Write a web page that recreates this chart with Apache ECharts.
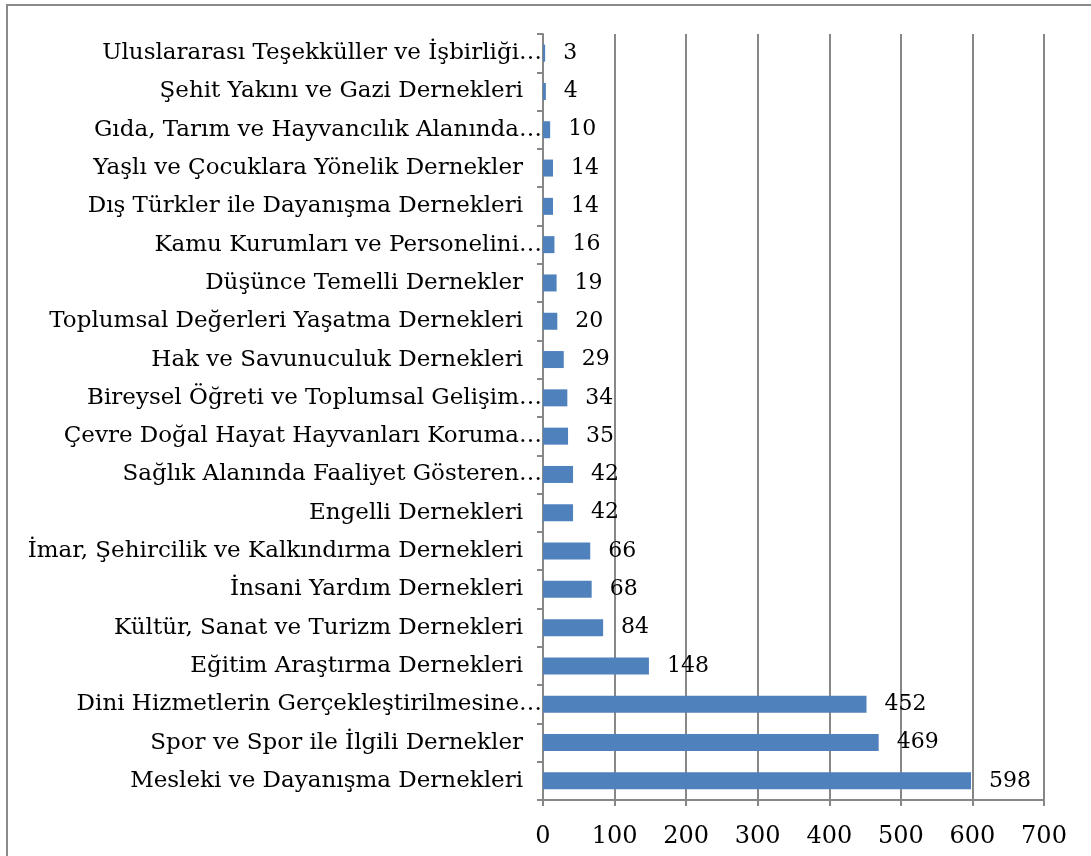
<!DOCTYPE html>
<html>
<head>
<meta charset="utf-8">
<script src="https://cdn.jsdelivr.net/npm/echarts@6/dist/echarts.min.js"></script>
<style>
  html, body { margin: 0; padding: 0; background: #fff; }
  .frame {
    position: absolute;
    left: 6px;
    top: 4px;
    width: 1085px;
    height: 852px;
    border-left: 2px solid #8a8a8a;
    border-top: 2px solid #8a8a8a;
  }
  #barChart { position: absolute; left: 0; top: 0; width: 1091px; height: 856px; }
</style>
</head>
<body>
<div class="frame"></div>
<div id="barChart"></div>
<script>
// kategoriler (yukaridan asagiya)
const categories = [
  'Uluslararası Teşekküller ve İşbirliği…',
  'Şehit Yakını ve Gazi Dernekleri',
  'Gıda, Tarım ve Hayvancılık Alanında…',
  'Yaşlı ve Çocuklara Yönelik Dernekler',
  'Dış Türkler ile Dayanışma Dernekleri',
  'Kamu Kurumları ve Personelini…',
  'Düşünce Temelli Dernekler',
  'Toplumsal Değerleri Yaşatma Dernekleri',
  'Hak ve Savunuculuk Dernekleri',
  'Bireysel Öğreti ve Toplumsal Gelişim…',
  'Çevre Doğal Hayat Hayvanları Koruma…',
  'Sağlık Alanında Faaliyet Gösteren…',
  'Engelli Dernekleri',
  'İmar, Şehircilik ve Kalkındırma Dernekleri',
  'İnsani Yardım Dernekleri',
  'Kültür, Sanat ve Turizm Dernekleri',
  'Eğitim Araştırma Dernekleri',
  'Dini Hizmetlerin Gerçekleştirilmesine…',
  'Spor ve Spor ile İlgili Dernekler',
  'Mesleki ve Dayanışma Dernekleri'
]
const values = [3, 4, 10, 14, 14, 16, 19, 20, 29, 34, 35, 42, 42, 66, 68, 84, 148, 452, 469, 598]
const xTicks = [0, 700, 100] // min, max, interval

const font = '"DejaVu Serif", serif'
const gray = '#878787'

let myChart = echarts.init(document.getElementById('barChart'))
myChart.setOption({
  animation: false,
  grid: {
    left: 543,
    right: 47,
    top: 34,
    bottom: 56
  },
  xAxis: {
    type: 'value',
    min: xTicks[0],
    max: xTicks[1],
    interval: xTicks[2],
    axisLine: { show: true, lineStyle: { color: gray, width: 2 } },
    axisTick: { show: true, length: 6, lineStyle: { color: gray, width: 2 } },
    splitLine: { show: true, lineStyle: { color: gray, width: 2 } },
    axisLabel: {
      margin: 25,
      fontFamily: font,
      fontSize: 24,
      color: '#000'
    }
  },
  yAxis: {
    type: 'category',
    inverse: true,
    data: categories,
    axisLine: { show: true, lineStyle: { color: gray, width: 2 } },
    axisTick: { show: true, length: 6, lineStyle: { color: gray, width: 2 } },
    axisLabel: {
      margin: 0,
      fontFamily: font,
      fontSize: 23,
      color: '#000',
      // kesilmis etiketler eksene kadar uzaniyor
      formatter: function (v) {
        return v.endsWith('…') ? '{e|' + v + '}' : '{n|' + v + '}'
      },
      rich: {
        n: { fontFamily: font, fontSize: 23, color: '#000', padding: [0, 20, 0, 0] },
        e: { fontFamily: font, fontSize: 23, color: '#000', padding: [0, 1, 0, 0] }
      }
    }
  },
  series: [
    {
      type: 'bar',
      data: values,
      barWidth: 17,
      itemStyle: { color: '#4f81bd' },
      label: {
        show: true,
        position: 'right',
        distance: 18,
        fontFamily: font,
        fontSize: 22,
        color: '#000'
      }
    }
  ]
})
</script>
</body>
</html>
